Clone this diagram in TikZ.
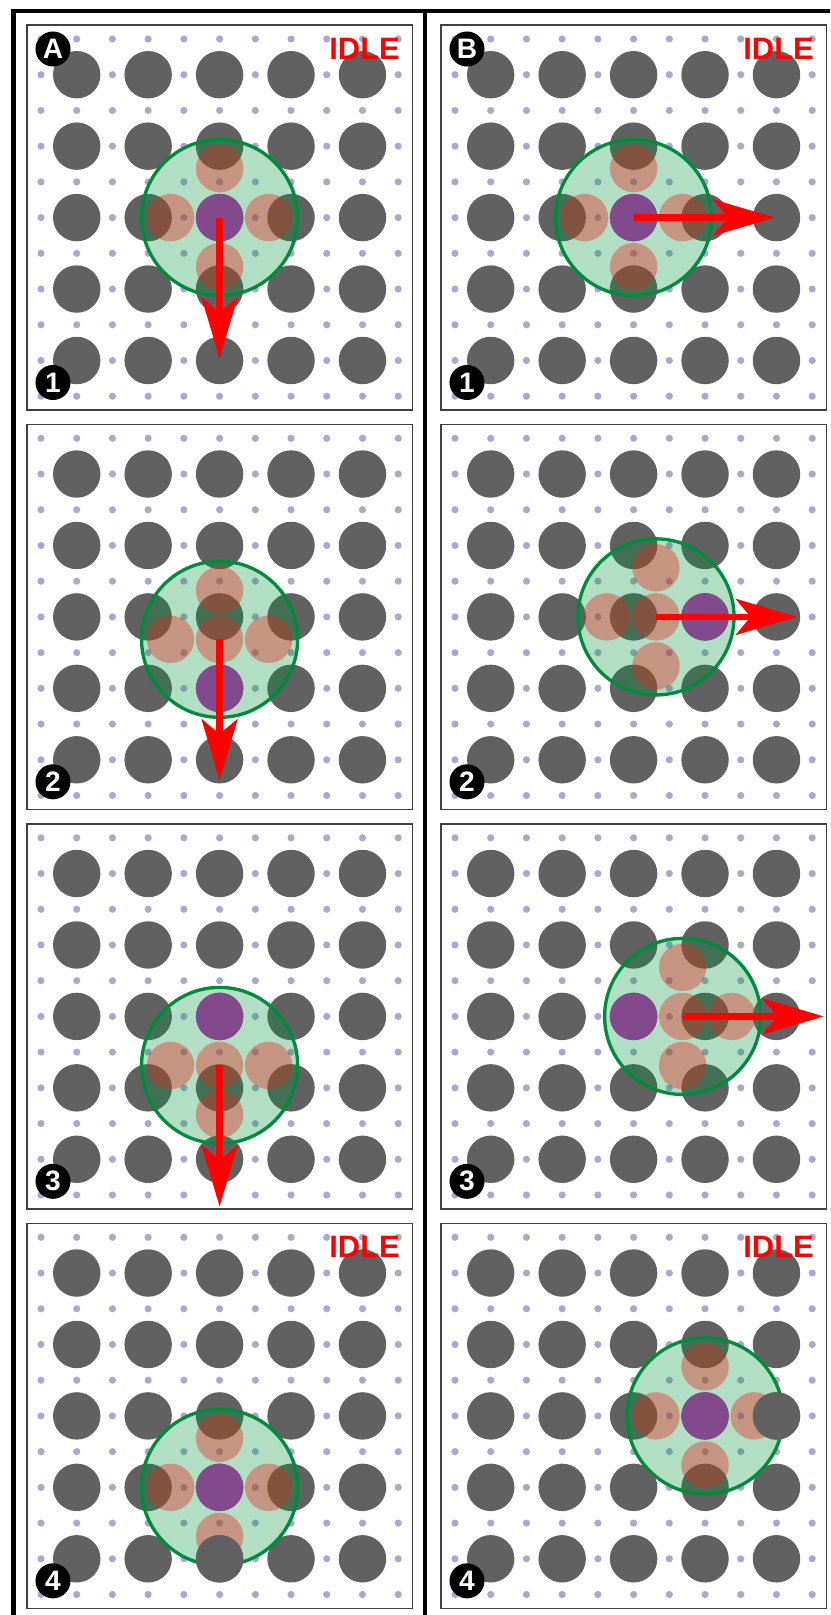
\documentclass[tikz,border=0pt]{standalone}
\usepackage{fontspec}
\newfontfamily\boardfont{Liberation Sans}
\usepackage{tikz}
\usetikzlibrary{arrows.meta}

\definecolor{stone}{RGB}{97,97,97}
\definecolor{lavender}{RGB}{168,168,208}
\definecolor{ringgreen}{RGB}{0,140,60}
\definecolor{ringfill}{RGB}{0,150,60}
\definecolor{nbrred}{RGB}{230,40,30}
\definecolor{focuspurple}{RGB}{130,74,140}

\tikzset{
  frame/.style={line width=1.14pt, black},
  board/.style={draw=black!75, line width=0.4pt, fill=white},
  cellgrid/.style={shift={(14,14)}, x=0.357cm, y=-0.357cm},
  griddot/.style={fill=lavender},
  post/.style={fill=stone},
  ring/.style={draw=ringgreen, line width=0.95pt, fill=ringfill, fill opacity=0.3},
  nbr/.style={fill=nbrred, fill opacity=0.4},
  focus/.style={fill=focuspurple},
  move/.style={draw=red, line width=1.85pt, -{Stealth[length=17.4pt,width=10.2pt,inset=4.2pt]}},
  badge/.style={circle, fill=black, text=white, inner sep=0pt, minimum size=0.35cm,
    font=\boardfont\bfseries\fontsize{8}{8}\selectfont},
  idle/.style={text=red, inner sep=0pt, anchor=north east,
    font=\boardfont\bfseries\fontsize{8.8}{8.8}\selectfont},
}

% empty board: frame, small dots, big posts
\newcommand{\board}{%
  \draw[board] (0,0) rectangle (385.5,385);
}
\newcommand{\lattice}{%
  \foreach \i in {0,...,10}
    \foreach \j in {0,...,10}
      \fill[griddot] (\i,\j) circle (0.1);
  \foreach \i in {1,3,...,9}
    \foreach \j in {1,3,...,9}
      \fill[post] (\i,\j) circle (0.664);
}
% ring at (#1,#2), purple cell at arm (#3,#4), red cells at arms #5
\newcommand{\swarm}[5]{%
  \path[ring] (#1,#2) circle (2.185);
  \foreach \dx/\dy in {#5}
    \fill[nbr] ({#1+1.373*\dx},{#2+1.373*\dy}) circle (0.664);
  \fill[focus] ({#1+1.373*#3},{#2+1.373*#4}) circle (0.664);
}

\begin{document}
\begin{tikzpicture}[x=0.01cm, y=-0.01cm]
  \useasboundingbox (0,0) rectangle (830,1615);

  % outer rules
  \draw[frame] (13.5,1615) -- (13.5,10.8) -- (830,10.8);
  \draw[frame] (425,10.8) -- (425,1615);

  % ---- column A ----
  % A1
  \begin{scope}[shift={(27,25)}]
    \board
    \begin{scope}[cellgrid]
      \lattice
      \swarm{5}{5}{0}{0}{1/0,-1/0,0/1,0/-1}
      \coordinate (a1c) at (5,5);
      \coordinate (a1t) at (5,8.95);
      \draw[move] (a1c) -- (a1t);
    \end{scope}
    \node[badge] (badgeA) at (26,24) {A};
    \node[badge] (stepA1) at (26,357.5) {1};
    \node[idle] (idleA1) at (373.5,12.5) {IDLE};
  \end{scope}

  % A2
  \begin{scope}[shift={(27,424.3)}]
    \board
    \begin{scope}[cellgrid]
      \lattice
      \swarm{5}{5.627}{0}{1}{0/0,1/0,-1/0,0/-1}
      \coordinate (a2c) at (5,5.627);
      \coordinate (a2t) at (5,9.577);
      \draw[move] (a2c) -- (a2t);
    \end{scope}
    \node[badge] (stepA2) at (26,357.5) {2};
  \end{scope}

  % A3
  \begin{scope}[shift={(27,823.8)}]
    \board
    \begin{scope}[cellgrid]
      \lattice
      \swarm{5}{6.373}{0}{-1}{0/0,1/0,-1/0,0/1}
      \coordinate (a3c) at (5,6.373);
      \coordinate (a3t) at (5,10.323);
      \draw[move] (a3c) -- (a3t);
    \end{scope}
    \node[badge] (stepA3) at (26,357.5) {3};
  \end{scope}

  % A4
  \begin{scope}[shift={(27,1223.3)}]
    \board
    \begin{scope}[cellgrid]
      \lattice
      \swarm{5}{7}{0}{0}{1/0,-1/0,0/1,0/-1}
      \fill[post] (5,9) circle (0.664);
    \end{scope}
    \node[badge] (stepA4) at (26,357.5) {4};
    \node[idle] (idleA4) at (373.5,12.5) {IDLE};
  \end{scope}

  % ---- column B ----
  % B1
  \begin{scope}[shift={(441,25)}]
    \board
    \begin{scope}[cellgrid]
      \lattice
      \swarm{5}{5}{0}{0}{1/0,-1/0,0/1,0/-1}
      \coordinate (b1c) at (5,5);
      \coordinate (b1t) at (8.95,5);
      \draw[move] (b1c) -- (b1t);
    \end{scope}
    \node[badge] (badgeB) at (26,24) {B};
    \node[badge] (stepB1) at (26,357.5) {1};
    \node[idle] (idleB1) at (373.5,12.5) {IDLE};
  \end{scope}

  % B2
  \begin{scope}[shift={(441,424.3)}]
    \board
    \begin{scope}[cellgrid]
      \lattice
      \swarm{5.627}{5}{1}{0}{0/0,-1/0,0/1,0/-1}
      \coordinate (b2c) at (5.627,5);
      \coordinate (b2t) at (9.577,5);
      \draw[move] (b2c) -- (b2t);
    \end{scope}
    \node[badge] (stepB2) at (26,357.5) {2};
  \end{scope}

  % B3
  \begin{scope}[shift={(441,823.8)}]
    \board
    \begin{scope}[cellgrid]
      \lattice
      \swarm{6.373}{5}{-1}{0}{0/0,1/0,0/1,0/-1}
      \coordinate (b3c) at (6.373,5);
      \coordinate (b3t) at (10.323,5);
      \draw[move] (b3c) -- (b3t);
    \end{scope}
    \node[badge] (stepB3) at (26,357.5) {3};
  \end{scope}

  % B4
  \begin{scope}[shift={(441,1223.3)}]
    \board
    \begin{scope}[cellgrid]
      \lattice
      \swarm{7}{5}{0}{0}{1/0,-1/0,0/1,0/-1}
      \fill[post] (9,5) circle (0.664);
    \end{scope}
    \node[badge] (stepB4) at (26,357.5) {4};
    \node[idle] (idleB4) at (373.5,12.5) {IDLE};
  \end{scope}
\end{tikzpicture}
\end{document}
